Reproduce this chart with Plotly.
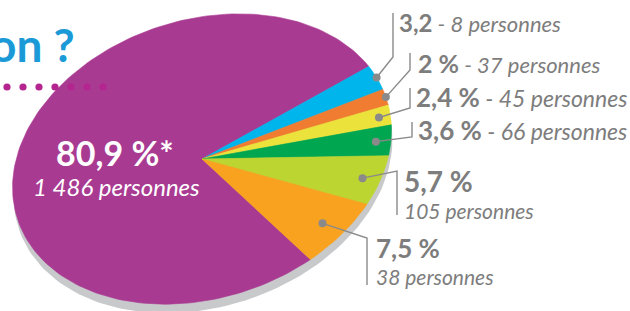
import math
import plotly.graph_objects as go

# ---------------- data ----------------
categories = ["Violet", "Bleu", "Orange", "Jaune", "Vert", "Vert clair", "Orangé"]
values = [80.9, 3.2, 2.0, 2.4, 3.6, 5.7, 7.5]
pct_labels = ["80,9 %*", "3,2", "2 %", "2,4 %", "3,6 %", "5,7 %", "7,5 %"]
person_labels = ["1 486", "8", "37", "45", "66", "105", "38"]
title_text = "on ?"

# ---------------- style / layout ----------------
colors = ["#a93a92", "#00b5ec", "#f07c32", "#ebe33b", "#00a650", "#bdd531", "#f8a21f"]
W, H = 630, 311
CX, CY = 202, 159          # pie centre (pixels)
A, B = 194, 139            # ellipse semi-axes (pixels)
TILT = math.radians(18)    # ellipse tilt
GROUP_MID = -26.5          # angle (deg) at which the small slices are centred
SHADOW_DX, SHADOW_DY = 1, 9
GREY = "#8a8a8a"
TXT = "#7d7d7d"
FONT = "Lato"


def to_px(phi_deg, r=1.0):
    p = math.radians(phi_deg)
    xp, yp = A * r * math.cos(p), B * r * math.sin(p)
    X = xp * math.cos(TILT) - yp * math.sin(TILT)
    Y = xp * math.sin(TILT) + yp * math.cos(TILT)
    return CX + X, CY - Y


total = sum(values)
deg = [v / total * 360 for v in values]
small_span = sum(deg[1:])
top = GROUP_MID + small_span / 2

extents = []
a0 = top
for d in deg[1:]:
    extents.append((a0, a0 - d))
    a0 -= d
extents = [(a0, top - 360)] + extents

fig = go.Figure()

# shadow
sx, sy = [], []
for k in range(0, 361, 2):
    x, y = to_px(k)
    sx.append(x + SHADOW_DX)
    sy.append(y + SHADOW_DY)
fig.add_trace(go.Scatter(x=sx, y=sy, fill="toself", mode="lines",
                         line=dict(width=0), fillcolor="#c8c9cb", hoverinfo="skip"))

for cat, (s, e), col in zip(categories, extents, colors):
    n = max(4, int(abs(s - e) / 1.5))
    xs, ys = [CX], [CY]
    for i in range(n + 1):
        x, y = to_px(s + (e - s) * i / n)
        xs.append(x)
        ys.append(y)
    xs.append(CX)
    ys.append(CY)
    fig.add_trace(go.Scatter(x=xs, y=ys, fill="toself", mode="lines", name=cat,
                             line=dict(width=0.6, color=col), fillcolor=col,
                             hoverinfo="skip"))

# leader lines: (dot radius, elbow x, elbow y, end y) for small slices
leaders = [
    (1.00, 393, 57, 13),
    (1.00, 410, 70, 53),
    (0.94, 410, 108, 88),
    (0.92, 412, 137, 122),
    (0.90, 397, 171, 215),
    (0.86, 367, 238, 285),
]
dot_x, dot_y = [], []
for i, (r, ex, ey, endy) in enumerate(leaders):
    s, e = extents[i + 1]
    dx, dy = to_px((s + e) / 2, r)
    dot_x.append(dx)
    dot_y.append(dy)
    fig.add_trace(go.Scatter(x=[dx, ex, ex], y=[dy, ey, endy], mode="lines",
                             line=dict(color=GREY, width=1.4), hoverinfo="skip"))
fig.add_trace(go.Scatter(x=dot_x, y=dot_y, mode="markers",
                         marker=dict(size=8, color=GREY), hoverinfo="skip"))

annotations = []
annotations.append(dict(x=115, y=152, text="<b>" + pct_labels[0] + "</b>",
                        font=dict(family=FONT, size=34, color="white"),
                        showarrow=False, xanchor="center", yanchor="middle"))
annotations.append(dict(x=116, y=186, text="<i>" + person_labels[0] + " personnes</i>",
                        font=dict(family=FONT, size=24, color="white"),
                        showarrow=False, xanchor="center", yanchor="middle"))

# one-line labels: (x, y, bold size, italic size)
one_line = [(397, 22, 24, 22), (416, 63, 25, 22), (414, 97, 26, 23), (416, 130, 26, 23)]
for i, (x, y, bs, isz) in enumerate(one_line):
    k = i + 1
    txt = ("<b>" + pct_labels[k] + "</b>" +
           "<span style='font-size:%dpx'><i> - %s personnes</i></span>" % (isz, person_labels[k]))
    annotations.append(dict(x=x, y=y, text=txt, showarrow=False, xanchor="left",
                            yanchor="middle", font=dict(family=FONT, size=bs, color=TXT)))

two_line = [(402, 181, 210, 28), (374, 248, 276, 26)]
for j, (x, y1, y2, bsz) in enumerate(two_line):
    k = 5 + j
    annotations.append(dict(x=x, y=y1, text="<b>" + pct_labels[k] + "</b>", showarrow=False,
                            xanchor="left", yanchor="middle",
                            font=dict(family=FONT, size=bsz, color=TXT)))
    annotations.append(dict(x=x, y=y2, text="<i>" + person_labels[k] + " personnes</i>",
                            showarrow=False, xanchor="left", yanchor="middle",
                            font=dict(family=FONT, size=21, color=TXT)))

annotations.append(dict(x=77, y=44, text="<b>" + title_text + "</b>", showarrow=False,
                        xanchor="right", yanchor="middle",
                        font=dict(family=FONT, size=46, color="#1b9ad7")))

shapes = []
for i in range(7):
    cx = 7 + 16 * i
    shapes.append(dict(type="circle", xref="x", yref="y", x0=cx - 3.6, x1=cx + 3.6,
                       y0=87 - 3.6, y1=87 + 3.6, fillcolor="#b5258f",
                       line=dict(width=0), layer="above"))

fig.update_layout(
    width=W, height=H, margin=dict(l=0, r=0, t=0, b=0),
    paper_bgcolor="white", plot_bgcolor="white", showlegend=False,
    xaxis=dict(range=[0, W], visible=False, fixedrange=True),
    yaxis=dict(range=[H, 0], visible=False, fixedrange=True),
    annotations=annotations, shapes=shapes,
)

fig.write_html("out.html", config={"displayModeBar": False},
               post_script="document.body.style.margin='0';document.body.style.overflow='hidden';")
